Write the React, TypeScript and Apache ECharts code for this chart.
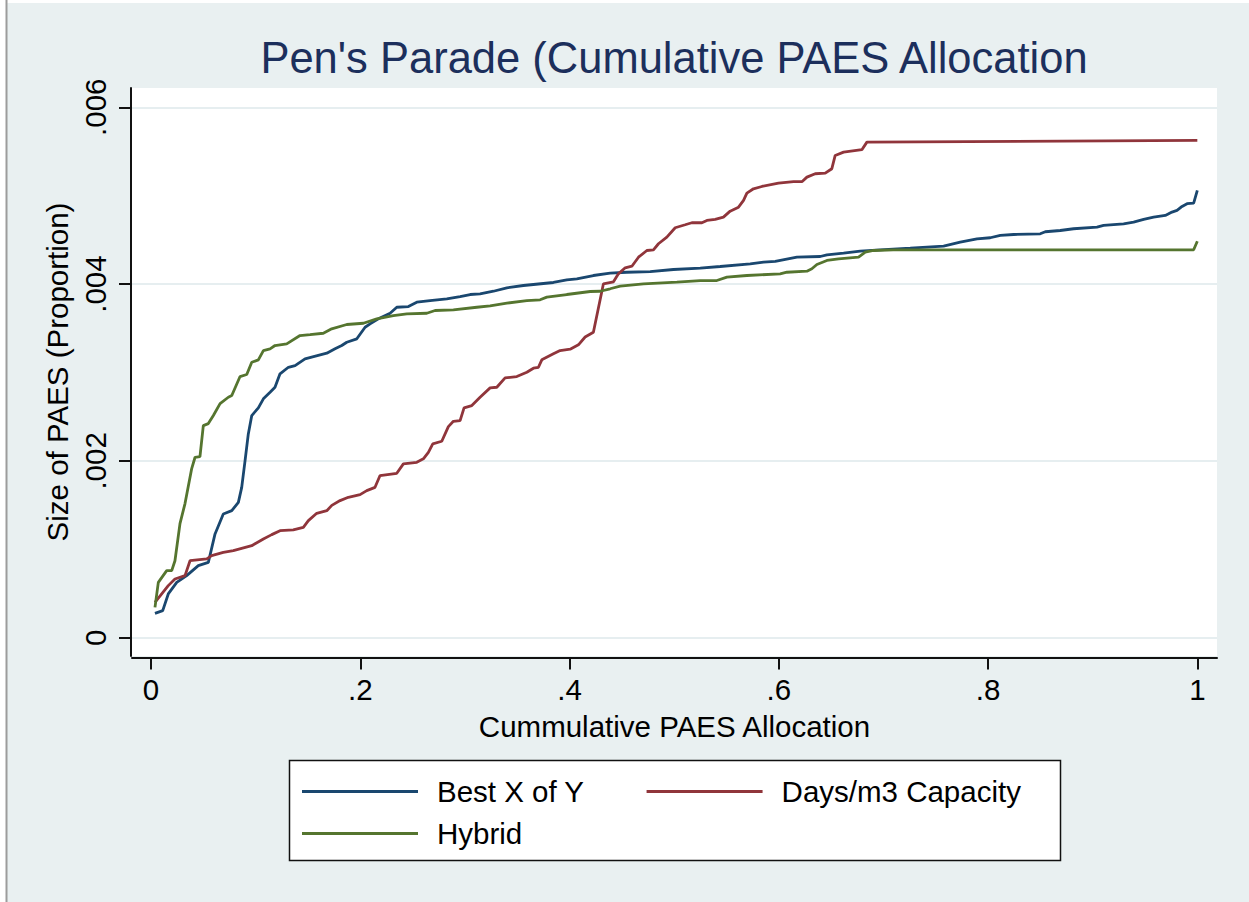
import React, { useEffect, useRef } from "react";
import * as echarts from "echarts";

const titleText = "Pen's Parade (Cumulative PAES Allocation";
const xAxisTitle = "Cummulative PAES Allocation";
const yAxisTitle = "Size of PAES (Proportion)";

const xTicks = [0, 0.2, 0.4, 0.6, 0.8, 1];
const yTicks = [0, 0.002, 0.004, 0.006];

const seriesNames = ["Best X of Y", "Days/m3 Capacity", "Hybrid"];
const seriesColors = ["#1a476f", "#90353b", "#55752f"];

const bestXofY: [number, number][] = [
  [0.0038, 0.000275], [0.0112, 0.000306], [0.0165, 0.000495], [0.0246, 0.000626],
  [0.0341, 0.000702], [0.0452, 0.000815], [0.0548, 0.000852], [0.0612, 0.001174],
  [0.0691, 0.0014], [0.0772, 0.001437], [0.0835, 0.001531], [0.0867, 0.001701],
  [0.0899, 0.002003], [0.093, 0.002305], [0.0963, 0.002513], [0.1026, 0.0026],
  [0.1074, 0.002702], [0.1138, 0.002776], [0.1185, 0.002833], [0.1233, 0.002985],
  [0.1313, 0.003059], [0.1377, 0.003078], [0.1472, 0.003154], [0.168, 0.003218],
  [0.1759, 0.003268], [0.1823, 0.003305], [0.1871, 0.003342], [0.1967, 0.003381],
  [0.2046, 0.003512], [0.2094, 0.00355], [0.2173, 0.003607], [0.2285, 0.00367],
  [0.2349, 0.003738], [0.246, 0.003746], [0.254, 0.003795], [0.2667, 0.003814],
  [0.2827, 0.003833], [0.2954, 0.003859], [0.305, 0.003882], [0.3145, 0.00389],
  [0.3273, 0.003919], [0.3401, 0.003958], [0.3559, 0.003984], [0.3846, 0.004018],
  [0.3974, 0.004048], [0.407, 0.00406], [0.4228, 0.004097], [0.4388, 0.004123],
  [0.4548, 0.004134], [0.4771, 0.004142], [0.4993, 0.004165], [0.5249, 0.00418],
  [0.544, 0.004199], [0.5727, 0.004229], [0.5854, 0.004248], [0.5966, 0.004256],
  [0.6173, 0.004304], [0.6396, 0.004312], [0.646, 0.004331], [0.6619, 0.00435],
  [0.6778, 0.004372], [0.6969, 0.004388], [0.7256, 0.004406], [0.7575, 0.004429],
  [0.7734, 0.004474], [0.7894, 0.004512], [0.8021, 0.004524], [0.8117, 0.00455],
  [0.8244, 0.004561], [0.8499, 0.004569], [0.8547, 0.004592], [0.869, 0.004606],
  [0.8817, 0.004626], [0.9041, 0.004644], [0.9104, 0.004663], [0.9295, 0.004682],
  [0.9391, 0.0047], [0.9487, 0.004731], [0.9582, 0.004757], [0.9694, 0.004776],
  [0.9758, 0.004814], [0.9806, 0.004833], [0.9854, 0.004878], [0.9902, 0.004909],
  [0.9965, 0.004915], [1.0, 0.005059],
];

const daysCapacity: [number, number][] = [
  [0.0038, 0.0004], [0.0165, 0.000589], [0.0229, 0.000664], [0.0325, 0.000702],
  [0.0373, 0.000871], [0.0533, 0.000891], [0.058, 0.000928], [0.0691, 0.000965],
  [0.0787, 0.000985], [0.0963, 0.001041], [0.1074, 0.001117], [0.1154, 0.001166],
  [0.1233, 0.001211], [0.136, 0.001219], [0.1456, 0.001248], [0.1504, 0.001324],
  [0.1584, 0.001407], [0.168, 0.001437], [0.1728, 0.001497], [0.1807, 0.001551],
  [0.1886, 0.001588], [0.1998, 0.001618], [0.2062, 0.001664], [0.2141, 0.001701],
  [0.2189, 0.001834], [0.2349, 0.00186], [0.2412, 0.001966], [0.254, 0.001984],
  [0.2603, 0.002023], [0.2651, 0.002097], [0.2693, 0.002192], [0.2779, 0.002222],
  [0.2842, 0.002388], [0.289, 0.002448], [0.2954, 0.002456], [0.2992, 0.0026],
  [0.3066, 0.002626], [0.3145, 0.00272], [0.3241, 0.002826], [0.3305, 0.002833],
  [0.3384, 0.002939], [0.3496, 0.002954], [0.3592, 0.003003], [0.3655, 0.003048],
  [0.3703, 0.003059], [0.3735, 0.003143], [0.3846, 0.003211], [0.391, 0.003248],
  [0.4006, 0.003263], [0.4085, 0.003313], [0.4149, 0.003401], [0.4228, 0.003455],
  [0.4324, 0.004003], [0.442, 0.004026], [0.4467, 0.004116], [0.4532, 0.004184],
  [0.4596, 0.004202], [0.4659, 0.004304], [0.4739, 0.00438], [0.4802, 0.004388],
  [0.485, 0.004456], [0.493, 0.004531], [0.501, 0.004637], [0.5105, 0.004671],
  [0.5169, 0.004694], [0.5265, 0.004694], [0.5313, 0.00472], [0.5392, 0.004731],
  [0.5471, 0.004757], [0.5535, 0.004825], [0.5615, 0.00487], [0.5663, 0.004946],
  [0.5695, 0.005029], [0.5758, 0.005078], [0.5838, 0.005104], [0.5997, 0.005142],
  [0.6141, 0.005158], [0.6221, 0.005158], [0.6269, 0.00521], [0.6348, 0.005248],
  [0.6444, 0.005255], [0.6507, 0.005305], [0.6539, 0.005455], [0.6619, 0.005493],
  [0.6794, 0.00552], [0.6842, 0.005606], [1.0, 0.005625],
];

const hybrid: [number, number][] = [
  [0.0038, 0.000343], [0.007, 0.000626], [0.015, 0.000758], [0.0198, 0.000758],
  [0.0229, 0.000871], [0.0277, 0.00129], [0.0325, 0.001517], [0.0389, 0.001913],
  [0.0421, 0.002041], [0.0468, 0.002049], [0.05, 0.002399], [0.0548, 0.002422],
  [0.0596, 0.002513], [0.066, 0.002648], [0.0739, 0.00272], [0.0772, 0.002739],
  [0.0851, 0.002954], [0.0915, 0.002977], [0.0963, 0.003116], [0.1026, 0.003143],
  [0.1074, 0.003248], [0.1138, 0.003268], [0.1185, 0.003305], [0.1297, 0.003324],
  [0.1424, 0.003418], [0.152, 0.003429], [0.1647, 0.003444], [0.1727, 0.003494],
  [0.1871, 0.003543], [0.203, 0.003557], [0.2158, 0.003607], [0.2316, 0.003644],
  [0.2445, 0.003664], [0.2636, 0.00367], [0.2715, 0.003701], [0.289, 0.003709],
  [0.3114, 0.003738], [0.3241, 0.003754], [0.3401, 0.003784], [0.3592, 0.003814],
  [0.3719, 0.003822], [0.3783, 0.003852], [0.3974, 0.003882], [0.4197, 0.003916],
  [0.4293, 0.003919], [0.4388, 0.003947], [0.4484, 0.003976], [0.4707, 0.004003],
  [0.5026, 0.004021], [0.5249, 0.00404], [0.5408, 0.00404], [0.5504, 0.004078],
  [0.5695, 0.004097], [0.6013, 0.004116], [0.6077, 0.004134], [0.6269, 0.004146],
  [0.6316, 0.004173], [0.6364, 0.004222], [0.646, 0.004267], [0.6571, 0.004286],
  [0.6762, 0.004304], [0.6826, 0.004361], [0.6905, 0.00438], [0.7094, 0.004388],
  [0.9965, 0.004388], [1.0, 0.004485],
];

const seriesData = [bestXofY, daysCapacity, hybrid];

const FONT = "'Liberation Sans', Arial, Helvetica, sans-serif";
const LABEL_SIZE = 29.5;

function fmtTick(v: number): string {
  if (Math.abs(v) < 1e-12) return "0";
  return String(+v.toPrecision(6)).replace(/^0\./, ".");
}

export default function App() {
  const ref = useRef<HTMLDivElement>(null);

  useEffect(() => {
    if (!ref.current) return;
    const chart = echarts.init(ref.current, null, { renderer: "svg" });

    const legendText = {
      fontSize: LABEL_SIZE,
      color: "#000",
      fontFamily: FONT,
      padding: [0, 0, 0, 14],
    };

    const option: any = {
      animation: false,
      backgroundColor: "#e9f0f1",
      textStyle: { fontFamily: FONT },
      grid: {
        left: 132,
        right: 32,
        top: 88,
        bottom: 246,
        show: true,
        backgroundColor: "#ffffff",
        borderWidth: 0,
        containLabel: false,
      },
      xAxis: {
        type: "value",
        min: -0.01816,
        max: 1.0188,
        offset: 1.5,
        name: xAxisTitle,
        nameLocation: "middle",
        nameGap: 54,
        nameTextStyle: { fontSize: LABEL_SIZE, color: "#000", fontFamily: FONT },
        axisLine: { show: true, onZero: false, lineStyle: { color: "#111", width: 2 } },
        axisTick: { show: true, length: 12, customValues: xTicks, lineStyle: { color: "#111", width: 2 } },
        axisLabel: {
          customValues: xTicks,
          formatter: fmtTick,
          fontSize: LABEL_SIZE,
          color: "#000",
          margin: 17,
          fontFamily: FONT,
        },
        splitLine: { show: false },
      },
      yAxis: {
        type: "value",
        min: -0.000207,
        max: 0.006218,
        offset: 1,
        name: yAxisTitle,
        nameLocation: "middle",
        nameGap: 55,
        nameTextStyle: { fontSize: LABEL_SIZE, color: "#000", fontFamily: FONT },
        axisLine: { show: true, onZero: false, lineStyle: { color: "#111", width: 2 } },
        axisTick: { show: true, length: 12, customValues: yTicks, lineStyle: { color: "#111", width: 2 } },
        axisLabel: {
          customValues: yTicks,
          formatter: fmtTick,
          rotate: 90,
          fontSize: LABEL_SIZE,
          color: "#000",
          margin: 21,
          fontFamily: FONT,
        },
        splitLine: { show: true, lineStyle: { color: "#e6eef0", width: 2 } },
      },
      legend: [
        {
          data: [seriesNames[0], seriesNames[1]],
          left: 302,
          top: 776.5,
          orient: "horizontal",
          padding: 0,
          itemGap: 62,
          icon: "rect",
          itemWidth: 116,
          itemHeight: 3,
          selectedMode: false,
          textStyle: legendText,
        },
        {
          data: [seriesNames[2]],
          left: 302,
          top: 818.5,
          orient: "horizontal",
          padding: 0,
          icon: "rect",
          itemWidth: 116,
          itemHeight: 3,
          selectedMode: false,
          textStyle: legendText,
        },
      ],
      graphic: [
        { type: "rect", shape: { x: 0, y: 0, width: 1249, height: 3 }, style: { fill: "#ffffff" }, silent: true },
        { type: "rect", shape: { x: 0, y: 0, width: 6, height: 902 }, style: { fill: "#ffffff" }, silent: true },
        { type: "line", shape: { x1: 6.5, y1: 0, x2: 6.5, y2: 902 }, style: { stroke: "#9c9c9c", lineWidth: 2 }, silent: true },
        {
          type: "text",
          x: 674,
          y: 57.5,
          style: {
            text: titleText,
            fontSize: 43.5,
            fontFamily: FONT,
            fill: "#1c2f5c",
            textAlign: "center",
            textVerticalAlign: "middle",
          },
          silent: true,
        },
        {
          type: "rect",
          z: 1,
          shape: { x: 289.5, y: 760.5, width: 771, height: 100 },
          style: { fill: "#ffffff", stroke: "#111", lineWidth: 1.5 },
          silent: true,
        },
      ],
      series: seriesNames.map((name, i) => ({
        name,
        type: "line",
        data: seriesData[i],
        showSymbol: false,
        symbol: "none",
        smooth: false,
        clip: true,
        lineStyle: { width: 2.8, color: seriesColors[i] },
        itemStyle: { color: seriesColors[i] },
        emphasis: { disabled: true },
      })),
    };

    chart.setOption(option);
    return () => chart.dispose();
  }, []);

  return (
    <div
      ref={ref}
      style={{ position: "absolute", left: 0, top: 0, width: 1249, height: 902 }}
    />
  );
}
